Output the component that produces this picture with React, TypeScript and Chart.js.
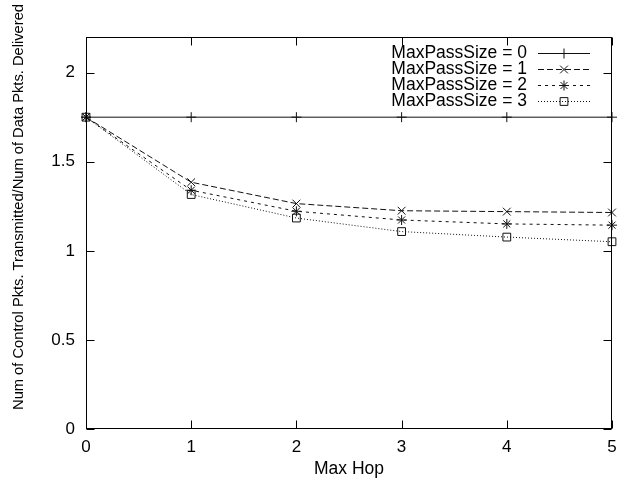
import React, { useEffect, useRef } from "react";
import { Chart, registerables } from "chart.js";

Chart.register(...registerables);

// ---- data ----
const xValues = [0, 1, 2, 3, 4, 5];
const seriesLabels = ["MaxPassSize = 0", "MaxPassSize = 1", "MaxPassSize = 2", "MaxPassSize = 3"];
const pass0 = [1.75, 1.75, 1.75, 1.75, 1.75, 1.75];
const pass1 = [1.75, 1.385, 1.265, 1.225, 1.22, 1.215];
const pass2 = [1.75, 1.34, 1.222, 1.173, 1.151, 1.144];
const pass3 = [1.75, 1.316, 1.184, 1.108, 1.077, 1.051];
const xTickValues = [0, 1, 2, 3, 4, 5];
const yTickValues = [0, 0.5, 1, 1.5, 2];
const xTitle = "Max Hop";
const yTitle = "Num of Control Pkts. Transmitted/Num of Data Pkts. Delivered";

const FONT = "'Liberation Sans', Arial, Helvetica, sans-serif";
const INK = "#111";

const seriesData = [pass0, pass1, pass2, pass3];
const seriesStyle = [
  { pointStyle: "cross", dash: [] as number[], radius: 5 },
  { pointStyle: "crossRot", dash: [6, 3], radius: 5.5 },
  { pointStyle: "star", dash: [3, 4], radius: 5 },
  { pointStyle: "rect", dash: [1, 2], radius: 5.5 },
];

function drawMarker(ctx: CanvasRenderingContext2D, style: string, x: number, y: number, r: number) {
  ctx.beginPath();
  if (style === "cross" || style === "star") {
    ctx.moveTo(x, y - r);
    ctx.lineTo(x, y + r);
    ctx.moveTo(x - r, y);
    ctx.lineTo(x + r, y);
  }
  if (style === "crossRot" || style === "star") {
    const d = r * Math.SQRT1_2;
    ctx.moveTo(x - d, y - d);
    ctx.lineTo(x + d, y + d);
    ctx.moveTo(x - d, y + d);
    ctx.lineTo(x + d, y - d);
  }
  if (style === "rect") {
    const d = r * Math.SQRT1_2;
    ctx.rect(x - d, y - d, 2 * d, 2 * d);
  }
  ctx.stroke();
}

const framePlugin = {
  id: "gnuFrame",
  afterDatasetsDraw(chart: any) {
    const { ctx, chartArea } = chart;
    const xs = chart.scales.x;
    const ys = chart.scales.y;
    const L = Math.round(chartArea.left) + 0.5;
    const R = Math.round(chartArea.right) - 0.5;
    const T = Math.round(chartArea.top) + 0.5;
    const B = Math.round(chartArea.bottom) - 0.5;
    const tl = 8;
    ctx.save();
    ctx.strokeStyle = "#000";
    ctx.lineWidth = 1;
    ctx.setLineDash([]);
    ctx.beginPath();
    for (const v of xTickValues) {
      const px = Math.round(xs.getPixelForValue(v)) + 0.5;
      ctx.moveTo(px, B);
      ctx.lineTo(px, B - tl);
      ctx.moveTo(px, T);
      ctx.lineTo(px, T + tl);
    }
    for (const v of yTickValues) {
      const py = Math.round(ys.getPixelForValue(v)) + 0.5;
      ctx.moveTo(L, py);
      ctx.lineTo(L + tl, py);
      ctx.moveTo(R, py);
      ctx.lineTo(R - tl, py);
    }
    ctx.stroke();
    ctx.strokeRect(L, T, R - L, B - T);

    // y-axis title
    ctx.fillStyle = "#000";
    ctx.font = `14.7px ${FONT}`;
    ctx.textAlign = "center";
    ctx.textBaseline = "middle";
    ctx.translate(19, 207);
    ctx.rotate(-Math.PI / 2);
    ctx.fillText(yTitle, 0, 0);
    ctx.restore();

    // legend
    ctx.save();
    ctx.font = `17.5px ${FONT}`;
    ctx.textAlign = "right";
    ctx.textBaseline = "middle";
    ctx.fillStyle = "#000";
    seriesLabels.forEach((label, i) => {
      const y = 52.7 + 16 * i;
      ctx.fillText(label, 527, y);
      const st = seriesStyle[i];
      ctx.strokeStyle = INK;
      ctx.lineWidth = 1;
      ctx.setLineDash(st.dash);
      ctx.beginPath();
      ctx.moveTo(538, Math.round(y) + 0.5);
      ctx.lineTo(590, Math.round(y) + 0.5);
      ctx.stroke();
      ctx.setLineDash([]);
      drawMarker(ctx, st.pointStyle, 564, Math.round(y) + 0.5, st.radius);
    });
    ctx.restore();
  },
};

export default function App() {
  const ref = useRef<HTMLCanvasElement>(null);
  useEffect(() => {
    const datasets = seriesData.map((vals, i) => ({
      label: seriesLabels[i],
      data: vals.map((v, j) => ({ x: xValues[j], y: v })),
      borderColor: INK,
      borderWidth: 1,
      borderDash: seriesStyle[i].dash,
      pointStyle: seriesStyle[i].pointStyle,
      pointRadius: seriesStyle[i].radius,
      pointBorderColor: INK,
      pointBackgroundColor: "rgba(0,0,0,0)",
      pointBorderWidth: 1,
      fill: false,
      tension: 0,
      clip: false as any,
    }));
    const chart = new Chart(ref.current!, {
      type: "line",
      data: { datasets },
      plugins: [framePlugin],
      options: {
        responsive: false,
        animation: false,
        devicePixelRatio: 1,
        layout: { padding: { top: 37, right: 16, left: 0, bottom: 0 } },
        plugins: { legend: { display: false }, tooltip: { enabled: false } },
        scales: {
          x: {
            type: "linear",
            min: 0,
            max: 5,
            afterBuildTicks: (s: any) => {
              s.ticks = xTickValues.map((v) => ({ value: v }));
            },
            afterFit: (s: any) => {
              s.height = 52;
            },
            grid: { display: false, drawTicks: false },
            border: { display: false },
            ticks: {
              padding: 8,
              color: "#000",
              font: { family: FONT, size: 17 },
              maxRotation: 0,
              callback: (v: any) => String(v),
            },
            title: {
              display: true,
              text: xTitle,
              color: "#000",
              font: { family: FONT, size: 17.5 },
              padding: { top: 0, bottom: 1.5 },
            },
          },
          y: {
            type: "linear",
            min: 0,
            max: 2.2,
            afterBuildTicks: (s: any) => {
              s.ticks = yTickValues.map((v) => ({ value: v }));
            },
            afterFit: (s: any) => {
              s.width = 86;
            },
            grid: { display: false, drawTicks: false },
            border: { display: false },
            ticks: {
              padding: 11,
              color: "#000",
              font: { family: FONT, size: 17 },
              callback: (v: any) => String(v),
            },
          },
        },
      },
    } as any);
    return () => chart.destroy();
  }, []);
  return (
    <div style={{ position: "absolute", left: 0, top: 0, width: 628, height: 481, background: "#fff" }}>
      <canvas ref={ref} width={628} height={481} style={{ display: "block" }} />
    </div>
  );
}
